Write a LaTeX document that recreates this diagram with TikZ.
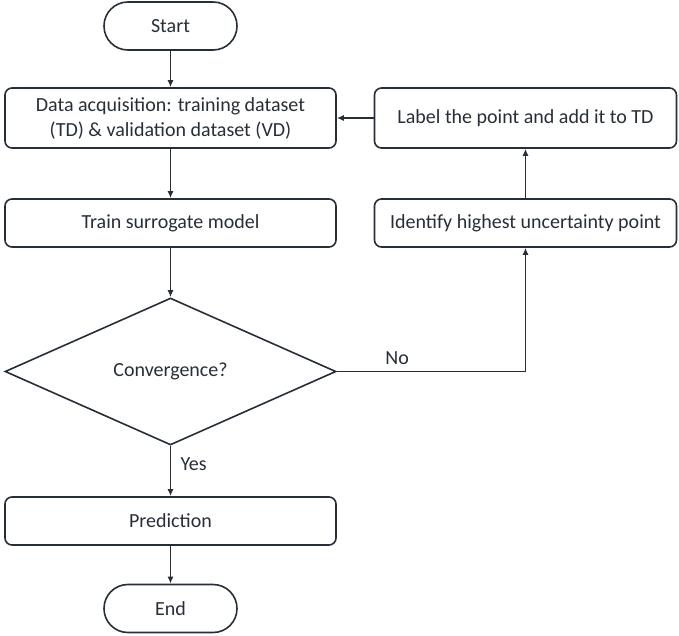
\documentclass[tikz,border=0pt]{standalone}
\usepackage{fontspec}
\setmainfont{Carlito}
\usetikzlibrary{shapes.geometric,arrows.meta}
\definecolor{linec}{RGB}{38,46,56}
\begin{document}
\begin{tikzpicture}[x=1pt,y=-1pt,
    every node/.style={font=\fontsize{20}{25}\selectfont,text=linec},
    box/.style={draw=linec,line width=1.6pt,rounded corners=7pt,
        minimum width=331pt,minimum height=48pt,align=center,inner sep=0pt},
    sidebox/.style={box,minimum width=302pt},
    terminal/.style={draw=linec,line width=1.6pt,rounded corners=23.9pt,
        minimum width=133pt,minimum height=48pt,inner sep=0pt},
    decision/.style={draw=linec,line width=1.6pt,diamond,aspect=2.25,
        minimum width=331pt,minimum height=147pt,inner sep=0pt},
    flow/.style={draw=linec,line width=1.6pt,-{Latex[length=7pt,width=6pt]}}]
    \useasboundingbox (0,0) rectangle (679,636);

    \node[terminal] (start) at (170.5,26) {Start};
    \node[box,minimum height=60pt] (data) at (170.5,118)
        {Data acquisition: training dataset\\(TD) \& validation dataset (VD)};
    \node[box] (train) at (170.5,223) {Train surrogate model};
    \node[decision] (conv) at (170.5,371.5) {Convergence?};
    \node[box] (pred) at (170.5,521) {Prediction};
    \node[terminal] (end) at (170.5,608.5) {End};
    \node[sidebox,minimum height=60pt] (label) at (525.5,118)
        {Label the point and add it to TD};
    \node[sidebox] (ident) at (525.5,223) {Identify highest uncertainty point};

    \draw[flow] (start) -- (data);
    \draw[flow] (data) -- (train);
    \draw[flow] (train) -- (conv);
    \draw[flow] (conv) -- node[pos=.36,right=6pt] {Yes} (pred);
    \draw[flow] (pred) -- (end);
    \draw[flow] (conv.east) -| node[pos=.16,above=3pt] {No} (ident);
    \draw[flow] (ident) -- (label);
    \draw[flow] (label) -- (data);
\end{tikzpicture}
\end{document}
